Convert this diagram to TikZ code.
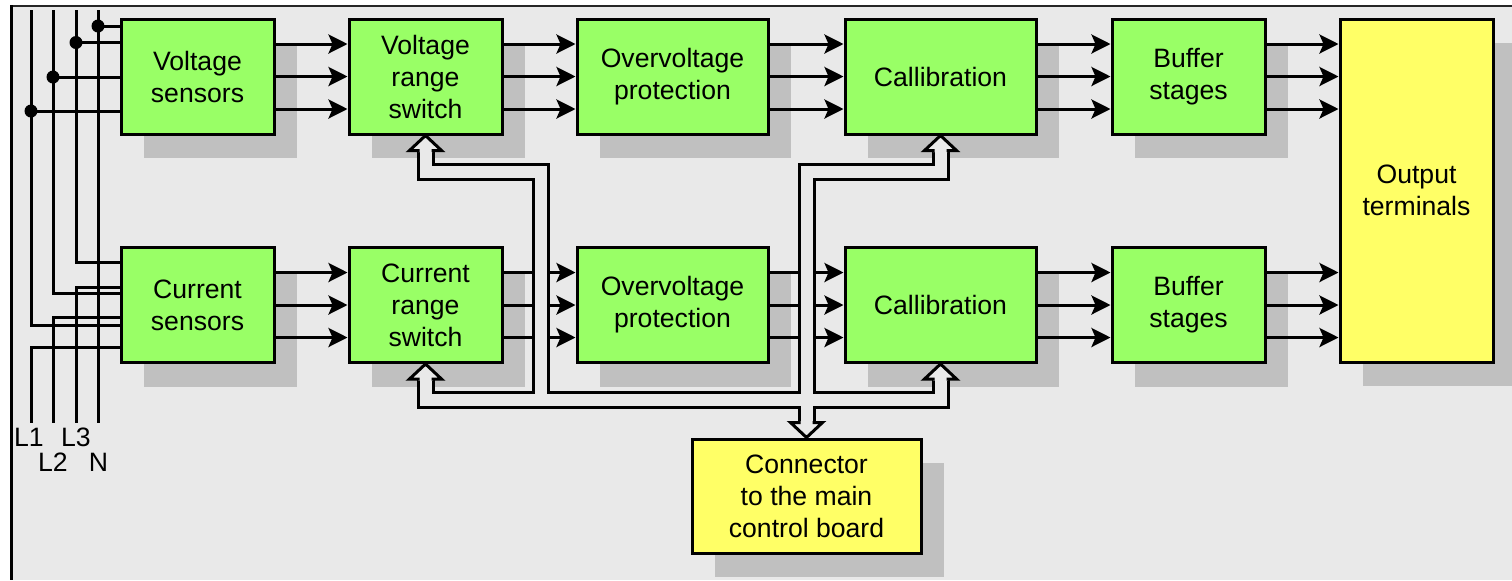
\documentclass[tikz,border=0pt]{standalone}
\usepackage{fontspec}
\setmainfont{Liberation Sans}
\usetikzlibrary{calc,shadows,arrows.meta}
\definecolor{bggray}{HTML}{E9E9E9}
\definecolor{boxgreen}{HTML}{99FF66}
\definecolor{boxyellow}{HTML}{FFFF66}
\definecolor{shgray}{HTML}{C0C0C0}
\begin{document}
\begin{tikzpicture}[x=0.5pt,y=-0.5pt,
  blk/.style={draw=black, line width=1.5pt, inner sep=0pt, align=center,
    font=\fontsize{13.3pt}{16pt}\selectfont, minimum height=57.5pt,
    drop shadow={shadow xshift=11.5pt, shadow yshift=-12pt, fill=shgray, opacity=1, draw=none, rounded corners=1pt}},
  gbox/.style={blk, fill=boxgreen, minimum width=76.5pt},
  wbox/.style={blk, fill=boxgreen, minimum width=95.5pt},
  ybox/.style={blk, fill=boxyellow},
  sig/.style={line width=1.5pt, -{Stealth[length=9.5pt,width=9.5pt,inset=2pt]}},
  wire/.style={line width=1.5pt, line join=miter},
  lbl/.style={inner sep=0pt, font=\fontsize{13.3pt}{16pt}\selectfont},
  hollow/.style={fill=bggray, draw=black, line width=1.5pt, line join=miter}
]
\useasboundingbox (0,0) rectangle (1512,580);
\fill[white] (0,0) rectangle (1512,580);
\fill[bggray] (11,6) rectangle (1512,580);
\draw[line width=1pt, black!85] (11,6) -- (1512,6);
\draw[line width=1.5pt] (11,5) -- (11,580);

% boxes
\node[gbox] (vs)  at (197.5,76.5) {Voltage\\sensors};
\node[gbox] (vrs) at (425.5,76.5) {Voltage\\range\\switch};
\node[wbox] (ov1) at (672.5,76.5) {Overvoltage\\protection};
\node[wbox] (cal1) at (940.5,76.5) {Callibration};
\node[gbox] (buf1) at (1188.5,76.5) {Buffer\\stages};
\node[gbox] (cs)  at (197.5,305) {Current\\sensors};
\node[gbox] (crs) at (425.5,305) {Current\\range\\switch};
\node[wbox] (ov2) at (672.5,305) {Overvoltage\\protection};
\node[wbox] (cal2) at (940.5,305) {Callibration};
\node[gbox] (buf2) at (1188.5,305) {Buffer\\stages};
\node[ybox, minimum width=76.5pt, minimum height=171.5pt] (out) at (1416.5,190.5) {Output\\terminals};
\node[ybox, minimum width=114.5pt, minimum height=57pt] (conn) at (806.5,496) {Connector\\to the main\\control board};

% mains wires
\coordinate (tN) at (98,10);  \coordinate (bN) at (98,423);
\coordinate (t3) at (76,10);  \coordinate (b3) at (76,423);
\coordinate (t2) at (53,10);  \coordinate (b2) at (53,423);
\coordinate (t1) at (31,10);  \coordinate (b1) at (31,423);
\draw[wire] (tN) -- (bN);
\draw[wire] (t3) |- ($(cs.west)+(0,-43)$);
\draw[wire] ($(cs.west)+(0,-18)$) -| (b3);
\draw[wire] (t2) |- ($(cs.west)+(0,-12)$);
\draw[wire] ($(cs.west)+(0,12)$) -| (b2);
\draw[wire] (t1) |- ($(cs.west)+(0,20)$);
\draw[wire] ($(cs.west)+(0,42)$) -| (b1);
\coordinate (dN) at (98,26);
\coordinate (d3) at (76,42.5);
\coordinate (d2) at (53,77);
\coordinate (d1) at (31,111);
\draw[wire] (dN) -- (dN -| vs.west);
\draw[wire] (d3) -- (d3 -| vs.west);
\draw[wire] (d2) -- (d2 -| vs.west);
\draw[wire] (d1) -- (d1 -| vs.west);
\foreach \d in {dN,d3,d2,d1} \fill (\d) circle[radius=3.25pt];
\node[lbl] (lL1) at (29,437) {L1};
\node[lbl] (lL3) at (76,437) {L3};
\node[lbl] (lL2) at (53,462) {L2};
\node[lbl] (lN)  at (98.5,462) {N};

% signal lines
\foreach \a/\b in {vs/vrs, vrs/ov1, ov1/cal1, cal1/buf1, cs/crs, crs/ov2, ov2/cal2, cal2/buf2}
  \foreach \d in {-32.5,0,32.5}
    \draw[sig] ($(\a.east)+(0,\d)$) -- ($(\b.west)+(0,\d)$);
\foreach \a in {buf1,buf2}
  \foreach \d in {-32.5,0,32.5}{
    \coordinate (s) at ($(\a.east)+(0,\d)$);
    \draw[sig] (s) -- (s -| out.west);
  }

% buses
\coordinate (b1a) at ($(vrs.south)+(0,15)$);
\coordinate (b1h) at (540.5,171.5);
\coordinate (b1v) at (540.5,400);
\coordinate (b2a) at ($(crs.south)+(0,15)$);
\coordinate (b2c) at ($(cal2.south)+(0,15)$);
\coordinate (b3a) at ($(cal1.south)+(0,15)$);
\coordinate (b3v) at (conn.north |- b1h);
\coordinate (b3b) at ($(conn.north)+(0,-15)$);
\foreach \w/\c in {9pt/black, 6pt/bggray}
  \draw[line width=\w, \c, line join=miter]
    (b1a) |- (b1h) -- (b1v)
    (b2a) |- (b1v) -- (b1v -| b2c) -- (b2c)
    (b3a) |- (b3v) -- (b3b);
% hollow arrowheads (up)
\foreach \t in {vrs.south, crs.south, cal1.south, cal2.south}
  \filldraw[hollow] ($(\t)+(-7.5,16.5)$) -- ($(\t)+(-7.5,15)$) -- ($(\t)+(-16,15)$) -- (\t)
    -- ($(\t)+(16,15)$) -- ($(\t)+(7.5,15)$) -- ($(\t)+(7.5,16.5)$);
% down
\filldraw[hollow] ($(conn.north)+(-7.5,-16.5)$) -- ($(conn.north)+(-7.5,-15)$) -- ($(conn.north)+(-16,-15)$) -- (conn.north)
    -- ($(conn.north)+(16,-15)$) -- ($(conn.north)+(7.5,-15)$) -- ($(conn.north)+(7.5,-16.5)$);
\end{tikzpicture}
\end{document}
